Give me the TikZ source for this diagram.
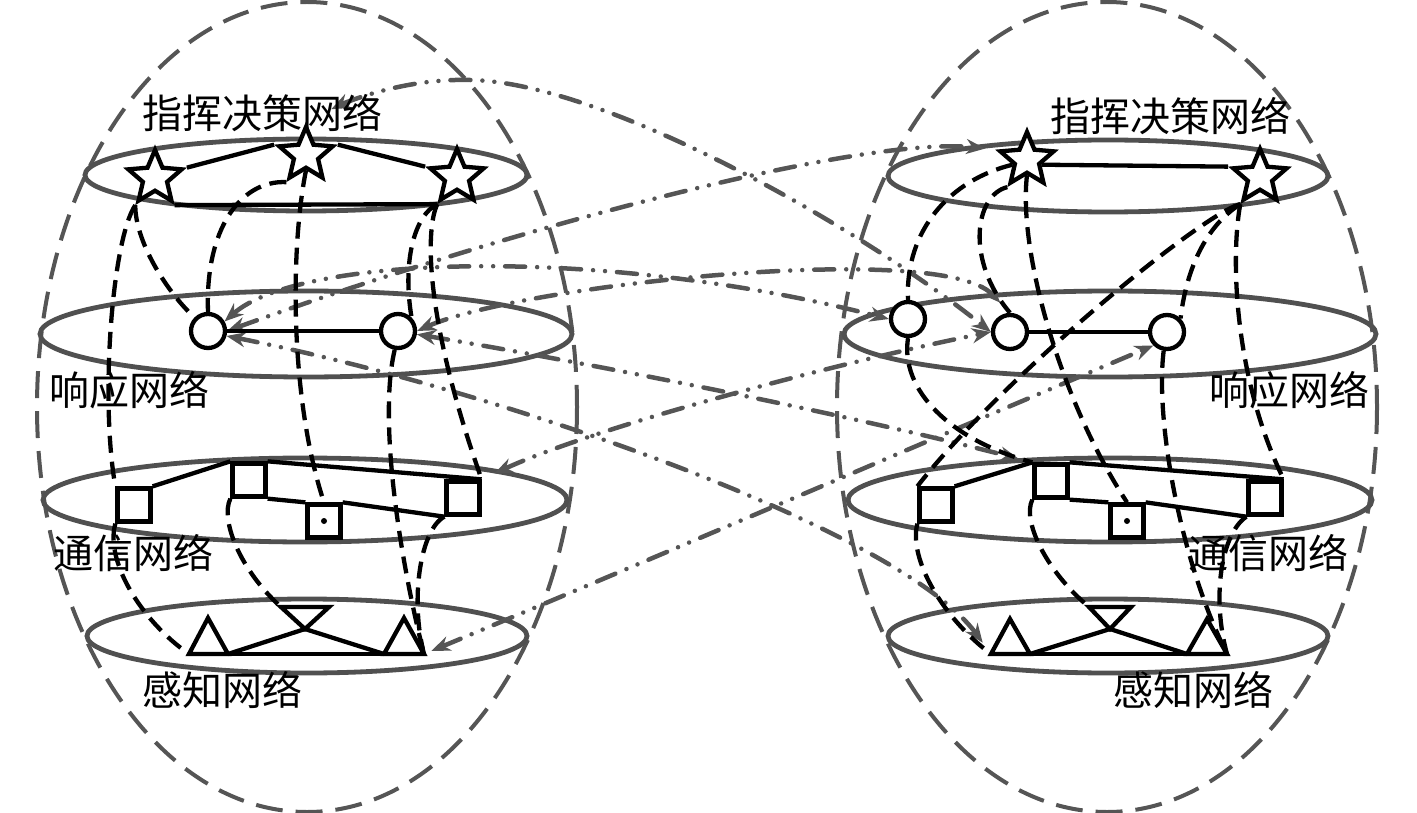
\documentclass[tikz,border=0pt]{standalone}
\usepackage{fontspec}
\newfontfamily\cjk{Noto Sans CJK SC}
\usetikzlibrary{shapes.geometric,arrows.meta,calc}
\definecolor{lg}{HTML}{555555}
\definecolor{eg}{HTML}{505050}
\pgfdeclarelayer{back}
\pgfsetlayers{back,main}
\begin{document}
\begin{tikzpicture}[x=1pt,y=-1pt,
  bigell/.style={draw=lg,line width=4pt,dash pattern=on 27pt off 13pt},
  layer/.style={draw=eg,line width=4.8pt},
  lnk/.style={draw=black,line width=4.3pt,dash pattern=on 17pt off 9pt},
  edge/.style={draw=black,line width=4.3pt},
  xarr/.style={draw=lg,line width=4.5pt,dash pattern=on 20pt off 12pt on 0pt off 12pt on 0pt off 12pt,line cap=round,>={Stealth[length=19pt,width=15pt]},<->},
  starn/.style={star,star points=5,star point ratio=2.2,minimum size=56pt,inner sep=0pt,draw=black,fill=white,line width=4.3pt},
  circn/.style={circle,minimum size=34pt,inner sep=0pt,draw=black,fill=white,line width=4.3pt},
  sqn/.style={rectangle,minimum size=33pt,inner sep=0pt,draw=black,fill=white,line width=4.3pt},
  trin/.style={draw=black,fill=white,line width=4.3pt,line join=miter},
  lab/.style={font={\cjk\fontsize{40}{48}\selectfont},inner sep=0pt}
]
\useasboundingbox (0,0) rectangle (1417,813);
% ---------- nodes ----------
\node[starn] (L1) at (155,178) {};
\node[starn] (L2) at (306,155) {};
\node[starn] (L3) at (457,177) {};
\node[circn] (Lc1) at (208,331) {};
\node[circn] (Lc2) at (398,331) {};
\node[sqn] (Lq1) at (134,505) {};
\node[sqn] (Lq2) at (249,480) {};
\node[sqn] (Lq3) at (324,521) {};
\node[sqn] (Lq4) at (463,498) {};
\node[starn] (R1) at (1027,160) {};
\node[starn] (R2) at (1260,177) {};
\node[circn] (Rc1) at (908,319) {};
\node[circn] (Rc2) at (1010,332) {};
\node[circn] (Rc3) at (1167,332) {};
\node[sqn] (Rq1) at (936,505) {};
\node[sqn] (Rq2) at (1051,481) {};
\node[sqn] (Rq3) at (1127,521) {};
\node[sqn] (Rq4) at (1265,498) {};
% triangle vertices
\coordinate (t1a) at (208,618); \coordinate (t1l) at (189,654); \coordinate (t1r) at (228,654);
\coordinate (tia) at (305,629); \coordinate (til) at (281,607); \coordinate (tir) at (329,607);
\coordinate (t2a) at (404,618); \coordinate (t2l) at (384,654); \coordinate (t2r) at (424,654);
\coordinate (u1a) at (1010,619); \coordinate (u1l) at (991,654); \coordinate (u1r) at (1030,654);
\coordinate (uia) at (1110,629); \coordinate (uil) at (1089,607); \coordinate (uir) at (1131,607);
\coordinate (u2a) at (1207,619); \coordinate (u2l) at (1187,654); \coordinate (u2r) at (1227,654);

\begin{pgfonlayer}{back}
% big dashed ellipses
\draw[bigell] (307,407) ellipse (270 and 405);
\draw[bigell] (1107,407) ellipse (270 and 405);
% layer ellipses
\draw[layer] (306,175) ellipse (221 and 36);
\draw[layer] (306,334) ellipse (266 and 43);
\draw[layer] (305,500) ellipse (262 and 42);
\draw[layer] (307,636) ellipse (220 and 37);
\draw[layer] (1108,176) ellipse (220 and 36);
\draw[layer] (1110,334) ellipse (266 and 43);
\draw[layer] (1110,500) ellipse (262 and 42);
\draw[layer] (1108,636) ellipse (220 and 37);
% cross-network dash-dot arrows
\draw[xarr,shorten <=28pt] (L2.outer point 1) .. controls (340,105) and (400,78) .. (470,80) .. controls (600,82) and (850,220) .. (Rc2.west);
\draw[xarr,shorten >=10pt] (Lc1.east) .. controls (500,232) and (860,135) .. (R1.outer point 2);
\draw[xarr] (Lc1.30) .. controls (300,255) and (600,245) .. (Rc1.west);
\draw[xarr,shorten >=14pt] (Lc2.east) .. controls (520,285) and (940,240) .. (Rc2.north);
\draw[xarr,shorten >=14pt] (Lc1.-15) .. controls (500,390) and (900,530) .. (u1l);
\draw[xarr,shorten >=14pt] (Lc2.-10) .. controls (600,365) and (850,415) .. (Rq2.north west);
\draw[xarr,shorten <=14pt] (Lq4.north east) .. controls (600,425) and (850,360) .. (Rc2.west);
\draw[xarr,shorten <=8pt] (t2r) .. controls (650,560) and (1000,410) .. (Rc3.south west);
% left dashed links
\draw[lnk] (L1.outer point 3) .. controls (135,240) and (165,290) .. (Lc1.north west);
\draw[lnk] (L1.outer point 3) .. controls (112,240) and (100,400) .. (Lq1.north west);
\draw[lnk] (L2.outer point 3) .. controls (240,180) and (205,230) .. (Lc1.north);
\draw[lnk] (L2.inner point 3) .. controls (290,250) and (290,400) .. (Lq3.north);
\draw[lnk] (L3.outer point 3) .. controls (415,215) and (402,260) .. (Lc2.north east);
\draw[lnk] (L3.outer point 3) .. controls (425,230) and (425,320) .. (Lq4.north east);
\draw[lnk] (Lc2.260) .. controls (378,420) and (400,560) .. (t2r);
\draw[lnk] (Lq4.south west) .. controls (420,530) and (410,600) .. (t2r);
\draw[lnk] (Lq1.south west) .. controls (105,560) and (140,620) .. (t1l);
\draw[lnk] (Lq2.south west) .. controls (220,520) and (240,570) .. (til);
% right dashed links
\draw[lnk] (R1.inner point 2) .. controls (950,180) and (905,230) .. (Rc1.north);
\draw[lnk] (R1.outer point 3) .. controls (975,195) and (965,260) .. (Rc2.north);
\draw[lnk] (R1.inner point 3) .. controls (1018,250) and (1060,400) .. (Rq3.north);
\draw[lnk] (R2.outer point 3) .. controls (1200,215) and (1000,380) .. (Rq1.north west);
\draw[lnk] (R2.outer point 3) .. controls (1200,230) and (1185,280) .. (Rc3.north east);
\draw[lnk] (R2.outer point 3) .. controls (1230,260) and (1235,380) .. (Rq4.north east);
\draw[lnk] (Rc1.south) .. controls (900,390) and (950,440) .. (Rq2.north west);
\draw[lnk] (Rc3.260) .. controls (1155,420) and (1180,560) .. (u2r);
\draw[lnk] (Rq4.south west) .. controls (1220,535) and (1212,600) .. (u2r);
\draw[lnk] (Rq1.south west) .. controls (908,560) and (945,620) .. (u1l);
\draw[lnk] (Rq2.south west) .. controls (1022,520) and (1045,570) .. (uil);
% solid edges
\draw[edge] (L1.outer point 5) -- (L2.outer point 2);
\draw[edge] (L2.outer point 5) -- (L3.outer point 2);
\draw[edge] (L1.outer point 4) -- (L3.outer point 3);
\draw[edge] (R1.inner point 4) -- (R2.outer point 2);
\draw[edge] (Lc1) -- (Lc2);
\draw[edge] (Rc2) -- (Rc3);
\draw[edge] (Lq1.north east) -- (Lq2.north west);
\draw[edge] (Lq2.north east) -- (Lq4.north east);
\draw[edge] (Lq2.south east) -- (Lq3.north west);
\draw[edge] (Lq3.north east) -- (Lq4.south west);
\draw[edge] (Rq1.north east) -- (Rq2.north west);
\draw[edge] (Rq2.north east) -- (Rq4.north east);
\draw[edge] (Rq2.south east) -- (Rq3.north west);
\draw[edge] (Rq3.north east) -- (Rq4.south west);
\draw[edge] (t1l) -- (t2r);
\draw[edge] (tia) -- (t1r);
\draw[edge] (tia) -- (t2l);
\draw[edge] (u1l) -- (u2r);
\draw[edge] (uia) -- (u1r);
\draw[edge] (uia) -- (u2l);
\end{pgfonlayer}
% triangles
\draw[trin] (t1l) -- (t1a) -- (t1r) -- cycle;
\draw[trin] (til) -- (tir) -- (tia) -- cycle;
\draw[trin] (t2l) -- (t2a) -- (t2r) -- cycle;
\draw[trin] (u1l) -- (u1a) -- (u1r) -- cycle;
\draw[trin] (uil) -- (uir) -- (uia) -- cycle;
\draw[trin] (u2l) -- (u2a) -- (u2r) -- cycle;
% centre dots
\fill (Lq3.center) circle (3);
\fill (Rq3.center) circle (3);
% labels
\node[lab] (lt1) at (262,113) {指挥决策网络};
\node[lab] (lt2) at (129,390) {响应网络};
\node[lab] (lt3) at (133,553) {通信网络};
\node[lab] (lt4) at (222,690) {感知网络};
\node[lab] (rt1) at (1170,116) {指挥决策网络};
\node[lab] (rt2) at (1289,390) {响应网络};
\node[lab] (rt3) at (1268,553) {通信网络};
\node[lab] (rt4) at (1193,690) {感知网络};
\end{tikzpicture}
\end{document}
